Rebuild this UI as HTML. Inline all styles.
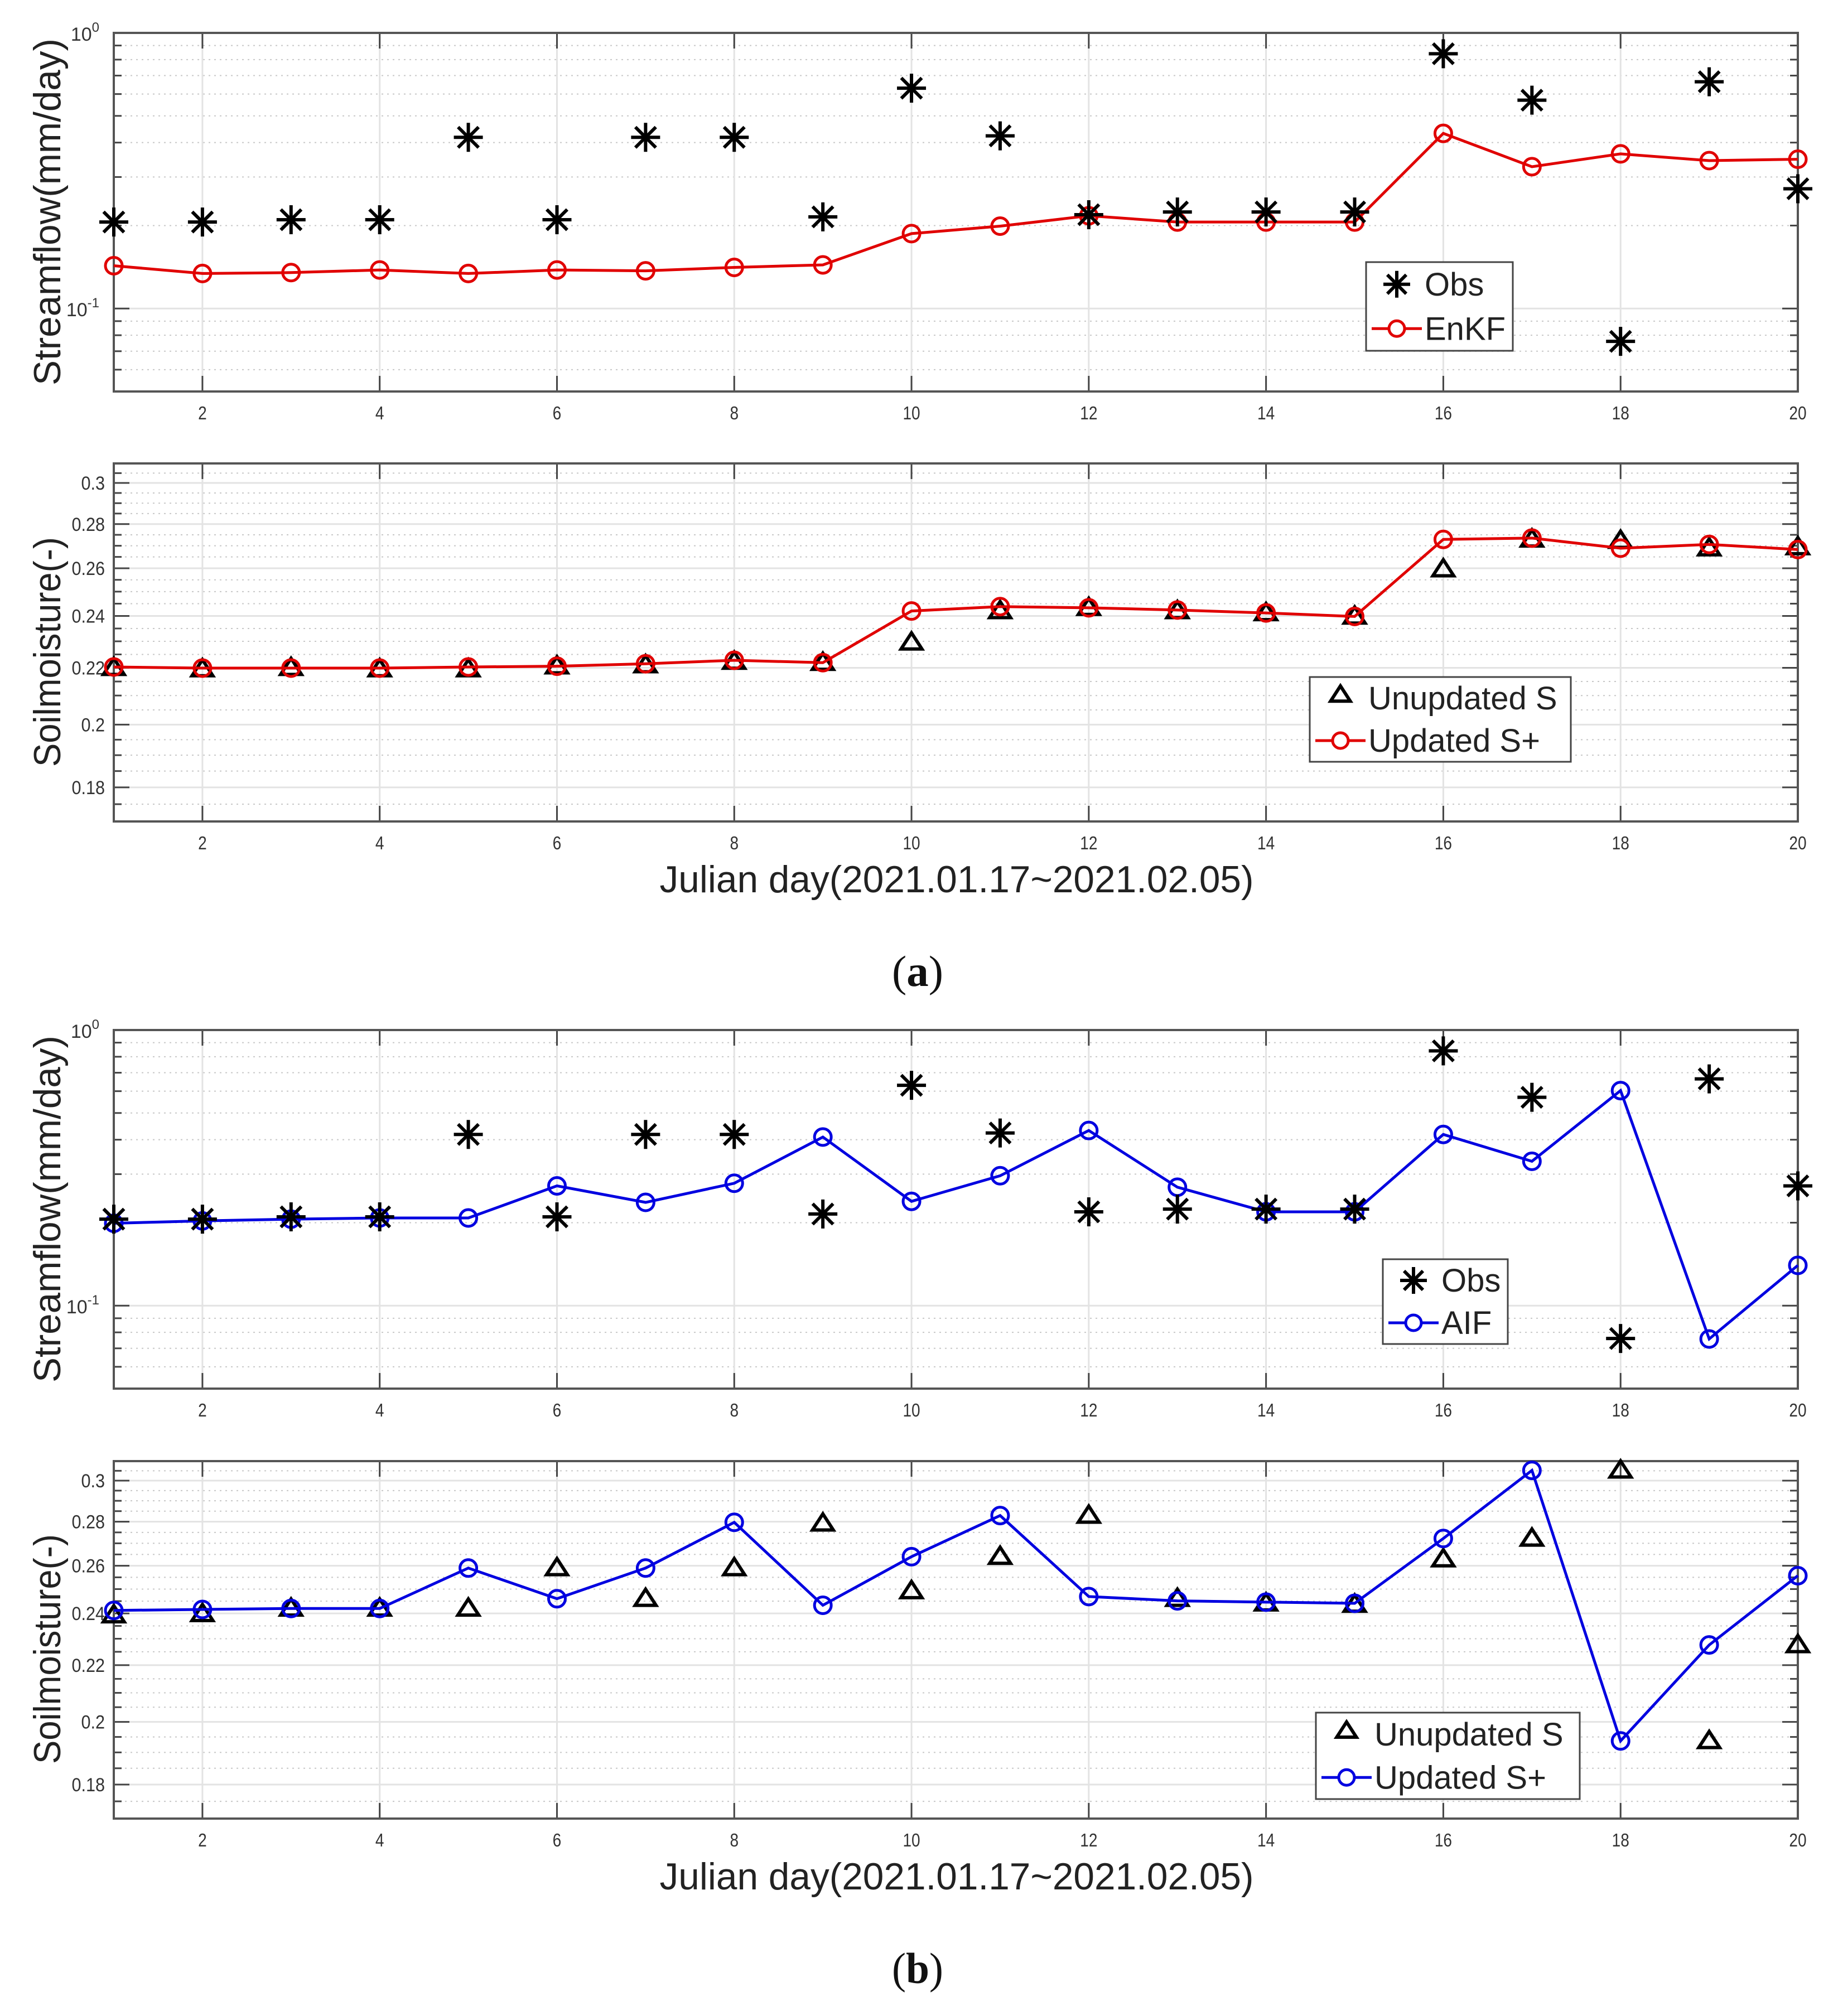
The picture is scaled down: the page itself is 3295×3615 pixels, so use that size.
<!DOCTYPE html>
<html><head><meta charset="utf-8">
<style>
html,body{margin:0;padding:0;background:#fff;}
svg{display:block;}
text{font-family:"Liberation Sans",Arial,sans-serif;}
</style></head>
<body>
<svg id="fig" width="3295" height="3615" viewBox="0 0 3295 3615" xmlns="http://www.w3.org/2000/svg"></svg>
<script>
const days = [1,2,3,4,5,6,7,8,9,10,11,12,13,14,15,16,17,18,19,20];
const xTicks = [2,4,6,8,10,12,14,16,18,20];
const obsFlow = [0.206,0.206,0.21,0.21,0.418,0.21,0.418,0.418,0.215,0.63,0.423,0.219,0.224,0.224,0.224,0.84,0.57,0.076,0.665,0.272];
const enkfFlow = [0.143,0.134,0.135,0.138,0.134,0.138,0.137,0.141,0.144,0.187,0.199,0.217,0.206,0.206,0.206,0.432,0.327,0.364,0.344,0.348];
const aifFlow = [0.199,0.203,0.206,0.208,0.208,0.272,0.237,0.278,0.409,0.239,0.296,0.432,0.269,0.219,0.219,0.418,0.334,0.603,0.0757,0.14];
const unupdA = [0.220,0.2195,0.220,0.2195,0.2195,0.2206,0.221,0.2223,0.2219,0.2296,0.242,0.2433,0.242,0.2412,0.2398,0.2596,0.2729,0.2723,0.2689,0.2694];
const updA = [0.2203,0.2199,0.2199,0.2199,0.2203,0.2206,0.2215,0.2228,0.2219,0.242,0.2438,0.2433,0.2424,0.2412,0.2398,0.2729,0.2735,0.2689,0.2706,0.2683];
const unupdB = [0.2393,0.2398,0.242,0.242,0.242,0.259,0.246,0.259,0.2792,0.2492,0.264,0.2829,0.246,0.2441,0.2436,0.2629,0.2722,0.3052,0.1937,0.2276];
const updB = [0.2412,0.2416,0.242,0.242,0.259,0.246,0.259,0.2797,0.2433,0.264,0.2829,0.2469,0.2451,0.2446,0.2441,0.2722,0.3052,0.1937,0.2276,0.2557];
const soilTicks = [0.18,0.2,0.22,0.24,0.26,0.28,0.3];
const soilTickLabels = ["0.18","0.2","0.22","0.24","0.26","0.28","0.3"];

const NS="http://www.w3.org/2000/svg";
const svg=document.getElementById('fig');
function mk(tag,attrs,parent){const e=document.createElementNS(NS,tag);for(const k in attrs)e.setAttribute(k,attrs[k]);(parent||svg).appendChild(e);return e;}

const X0=204,X1=3223;
function xs(d){return X0+(d-1)/(19)*(X1-X0);}

function panel(name,top,bot,ymin,ymax,kind,titleC){
  const g=mk('g',{});
  
  
  const lmin=Math.log10(ymin),lmax=Math.log10(ymax);
  const ys=v=>bot-(Math.log10(v)-lmin)/(lmax-lmin)*(bot-top);
  let minors=[],majors=[];
  if(kind==='flow'){
    for(let v=0.05;v<0.095;v+=0.01)minors.push(v);
    for(let v=0.2;v<0.95;v+=0.1)minors.push(v);
    majors=[0.1,1];
  } else {
    for(let v=0.17;v<=0.3101;v+=0.005){const r=Math.round(v*1000)/1000; if(Math.round(r*1000)%20!==0)minors.push(r);}
    majors=soilTicks;
  }
  minors.forEach(v=>{const y=ys(v);
    mk('line',{x1:X0,x2:X1,y1:y,y2:y,stroke:'#c8c8c8','stroke-width':2,'stroke-dasharray':'3 7'},g);
    mk('line',{x1:X0,x2:X0+14,y1:y,y2:y,stroke:'#444','stroke-width':3},g);
    mk('line',{x1:X1,x2:X1-14,y1:y,y2:y,stroke:'#444','stroke-width':3},g);
  });
  majors.forEach(v=>{const y=ys(v); if(y<top-1)return;
    mk('line',{x1:X0,x2:X1,y1:y,y2:y,stroke:'#e3e3e3','stroke-width':3},g);
    mk('line',{x1:X0,x2:X0+28,y1:y,y2:y,stroke:'#444','stroke-width':3},g);
    mk('line',{x1:X1,x2:X1-28,y1:y,y2:y,stroke:'#444','stroke-width':3},g);
  });
  xTicks.forEach(d=>{const x=xs(d);
    mk('line',{x1:x,x2:x,y1:top,y2:bot,stroke:'#e3e3e3','stroke-width':3},g);
    mk('line',{x1:x,x2:x,y1:top,y2:top+28,stroke:'#444','stroke-width':3},g);
    mk('line',{x1:x,x2:x,y1:bot,y2:bot-28,stroke:'#444','stroke-width':3},g);
    const t=mk('text',{x:x,y:bot+50,'font-size':33,'text-anchor':'middle',fill:'#333',transform:`translate(${x},0) scale(0.85,1) translate(${-x},0)`},g);
    
    
    t.textContent=d;
  });
  mk('rect',{x:X0,y:top,width:X1-X0,height:bot-top,fill:'none',stroke:'#555','stroke-width':4},g);
  if(kind==='flow'){
    [[1,'10','0'],[0.1,'10','-1']].forEach(([v,b,e])=>{
      const t=mk('text',{x:178,y:ys(v)+14,'font-size':34,'text-anchor':'end',fill:'#333'},g);
      
      
      t.textContent=b;
      const s=mk('tspan',{dy:-16,'font-size':24},t); s.textContent=e;
    });
  } else {
    soilTicks.forEach((v,i)=>{
      const t=mk('text',{x:188,y:ys(v)+12,'font-size':34,'text-anchor':'end',fill:'#333',transform:'translate(188,0) scale(0.9,1) translate(-188,0)'},g);
      
      
      t.textContent=soilTickLabels[i];
    });
  }
  const yt=mk('text',{x:0,y:0,'font-size':68,'text-anchor':'middle',fill:'#222',transform:`translate(108,${titleC}) rotate(-90)`,
    textLength:kind==='flow'?622:412,lengthAdjust:'spacingAndGlyphs'},g);
  
  
  yt.textContent=kind==='flow'?'Streamflow(mm/day)':'Soilmoisture(-)';
  return {g,ys};
}
function star(g,x,y,s){
  const p=mk('g',{stroke:'#000','stroke-width':6},g);
  
  
  for(let a=0;a<180;a+=45){const r=a*Math.PI/180;
    mk('line',{x1:x-s*Math.cos(r),y1:y-s*Math.sin(r),x2:x+s*Math.cos(r),y2:y+s*Math.sin(r)},p);}
}
function tri(g,x,y,s){
  const p=mk('polygon',{points:`${x},${y-s} ${x-s*1.1},${y+s*0.7} ${x+s*1.1},${y+s*0.7}`,fill:'none',stroke:'#000','stroke-width':6},g);
  
  
}
function lineSeries(g,ys,vals,color,name){
  const pts=vals.map((v,i)=>xs(days[i])+','+ys(v)).join(' ');
  const l=mk('polyline',{points:pts,fill:'none',stroke:color,'stroke-width':5},g);
  
  
  vals.forEach((v,i)=>{
    const c=mk('circle',{cx:xs(days[i]),cy:ys(v),r:15,fill:'none',stroke:color,'stroke-width':5},g);
    
    
  });
}
function legend(g,x,y,w,h,items,color){
  const lg=mk('g',{},g);
  
  
  mk('rect',{x,y,width:w,height:h,fill:'#fff',stroke:'#444','stroke-width':3},lg);
  const rh=h/2;
  items.forEach((it,i)=>{
    const cy=y+rh*(i+0.5), mx=x+55;
    if(it.m==='star')star(lg,mx,cy,24);
    else if(it.m==='tri')tri(lg,mx,cy-6,16);
    else{mk('line',{x1:mx-45,x2:mx+45,y1:cy,y2:cy,stroke:color,'stroke-width':5},lg);
      mk('circle',{cx:mx,cy:cy,r:14,fill:'#fff',stroke:color,'stroke-width':5},lg);}
    const t=mk('text',{x:x+105,y:cy+20,'font-size':58,fill:'#222'},lg);
    
    
    t.textContent=it.t;
  });
}
function xtitle(y){
  const t=mk('text',{x:1715,y:y,'font-size':68,'text-anchor':'middle',fill:'#222',textLength:1065,lengthAdjust:'spacingAndGlyphs'});
  
  
  t.textContent='Julian day(2021.01.17~2021.02.05)';
}
function plabel(y,str,name){
  const t=mk('text',{x:1645,y:y,'font-size':78,'text-anchor':'middle',fill:'#111',style:'font-family:"Liberation Serif",serif',textLength:92,lengthAdjust:'spacingAndGlyphs'});
  
  
  t.appendChild(document.createTextNode('('));
  const b=mk('tspan',{'font-weight':'bold'},t);b.textContent=str;
  t.appendChild(document.createTextNode(')'));
}

let p=panel('streamflow-enkf-panel',59,702,0.05,1,'flow',380);
lineSeries(p.g,p.ys,enkfFlow,'#e00000','enkf');
obsFlow.forEach((v,i)=>star(p.g,xs(days[i]),p.ys(v),26));
legend(p.g,2449,470,263,159,[{m:'star',t:'Obs'},{m:'line',t:'EnKF'}],'#e00000');
p=panel('soilmoisture-enkf-panel',831,1473,0.17,0.31,'soil',1169);
unupdA.forEach((v,i)=>tri(p.g,xs(days[i]),p.ys(v),17));
lineSeries(p.g,p.ys,updA,'#e00000','updated');
legend(p.g,2348,1214,468,152,[{m:'tri',t:'Unupdated S'},{m:'line',t:'Updated S+'}],'#e00000');
xtitle(1600);
plabel(1768,'a','panel-label-a');
p=panel('streamflow-aif-panel',1847,2490,0.05,1,'flow',2168);
lineSeries(p.g,p.ys,aifFlow,'#0000e0','aif');
obsFlow.forEach((v,i)=>star(p.g,xs(days[i]),p.ys(v),26));
legend(p.g,2479,2258,224,152,[{m:'star',t:'Obs'},{m:'line',t:'AIF'}],'#0000e0');
p=panel('soilmoisture-aif-panel',2620,3261,0.17,0.31,'soil',2957);
unupdB.forEach((v,i)=>tri(p.g,xs(days[i]),p.ys(v),17));
lineSeries(p.g,p.ys,updB,'#0000e0','updated');
legend(p.g,2359,3071,473,155,[{m:'tri',t:'Unupdated S'},{m:'line',t:'Updated S+'}],'#0000e0');
xtitle(3388);
plabel(3556,'b','panel-label-b');
</script>
</body></html>
